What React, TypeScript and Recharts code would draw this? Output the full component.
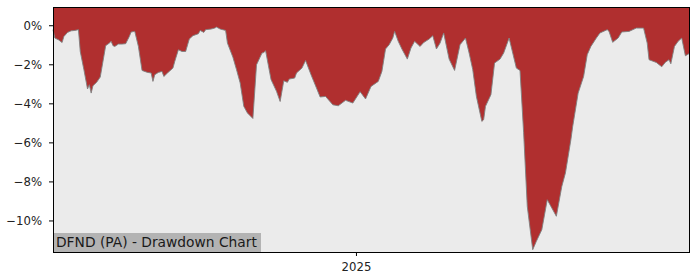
import React from "react";
import { AreaChart, Area, XAxis, YAxis, CartesianGrid } from "recharts";

const dates: string[] = [
  "2024-07-18","2024-07-19","2024-07-21","2024-07-23","2024-07-24","2024-07-26","2024-07-28","2024-07-30",
  "2024-08-01","2024-08-02","2024-08-04","2024-08-06","2024-08-07","2024-08-08","2024-08-09","2024-08-11",
  "2024-08-13","2024-08-16","2024-08-18","2024-08-19","2024-08-20","2024-08-21","2024-08-23","2024-08-25",
  "2024-08-27","2024-08-29","2024-08-30","2024-09-01","2024-09-03","2024-09-05","2024-09-08","2024-09-10",
  "2024-09-11","2024-09-12","2024-09-14","2024-09-16","2024-09-17","2024-09-19","2024-09-22","2024-09-23",
  "2024-09-25","2024-09-27","2024-09-29","2024-10-01","2024-10-03","2024-10-06","2024-10-07","2024-10-09",
  "2024-10-10","2024-10-13","2024-10-15","2024-10-16","2024-10-18","2024-10-21","2024-10-22","2024-10-25",
  "2024-10-27","2024-10-29","2024-10-31","2024-11-02","2024-11-05","2024-11-07","2024-11-10","2024-11-11",
  "2024-11-12","2024-11-15","2024-11-18","2024-11-20","2024-11-22","2024-11-24","2024-11-25","2024-11-28",
  "2024-11-29","2024-12-02","2024-12-04","2024-12-07","2024-12-10","2024-12-12","2024-12-15","2024-12-19",
  "2024-12-22","2024-12-26","2024-12-30","2025-01-03","2025-01-06","2025-01-09","2025-01-13","2025-01-15",
  "2025-01-17","2025-01-19","2025-01-21","2025-01-22","2025-01-24","2025-01-26","2025-01-29","2025-01-31",
  "2025-02-02","2025-02-05","2025-02-07","2025-02-10","2025-02-12","2025-02-14","2025-02-16","2025-02-18",
  "2025-02-21","2025-02-24","2025-02-27","2025-03-02","2025-03-04","2025-03-06","2025-03-08","2025-03-11",
  "2025-03-12","2025-03-13","2025-03-16","2025-03-18","2025-03-21","2025-03-23","2025-03-26","2025-03-28",
  "2025-03-30","2025-04-01","2025-04-03","2025-04-05","2025-04-08","2025-04-10","2025-04-13","2025-04-16",
  "2025-04-21","2025-04-24","2025-04-26","2025-04-29","2025-04-30","2025-05-03","2025-05-06","2025-05-08",
  "2025-05-10","2025-05-13","2025-05-15","2025-05-19","2025-05-20","2025-05-22","2025-05-25","2025-05-27",
  "2025-05-31","2025-06-04","2025-06-08","2025-06-10","2025-06-11","2025-06-15","2025-06-18","2025-06-20",
  "2025-06-22","2025-06-23","2025-06-25","2025-06-27","2025-06-29","2025-07-01","2025-07-03",
];

const drawdown: number[] = [
  -0.20,-0.63,-0.72,-0.86,-0.55,-0.34,-0.26,-0.24,
  -0.20,-1.32,-2.25,-3.24,-3.02,-3.45,-3.07,-2.90,
  -2.63,-1.02,-0.89,-0.80,-1.02,-1.06,-0.94,-0.94,
  -0.92,-0.55,-0.32,-0.29,-1.06,-2.29,-2.39,-2.42,
  -2.85,-2.51,-2.39,-2.34,-2.60,-2.42,-2.17,-1.83,
  -1.23,-1.32,-1.32,-0.68,-0.51,-0.41,-0.24,-0.34,
  -0.20,-0.17,-0.12,-0.07,-0.17,-0.24,-0.89,-1.61,
  -2.25,-2.93,-4.13,-4.47,-4.75,-2.00,-1.40,-1.37,
  -1.28,-2.76,-3.36,-3.88,-2.82,-2.90,-2.73,-2.68,
  -2.42,-2.17,-1.78,-2.51,-3.19,-3.65,-3.62,-4.05,
  -4.10,-3.82,-3.96,-3.38,-3.75,-3.11,-2.85,-2.34,
  -1.19,-0.97,-0.63,-0.29,-0.80,-1.19,-1.71,-1.14,
  -0.80,-1.06,-0.86,-0.68,-0.51,-1.19,-0.89,-0.37,
  -1.71,-2.29,-0.97,-0.63,-1.40,-2.25,-3.62,-4.90,
  -4.81,-4.13,-3.53,-1.91,-1.71,-1.40,-0.63,-1.40,
  -2.17,-2.29,-5.48,-9.25,-11.47,-11.04,-10.45,-8.91,
  -9.76,-8.23,-7.54,-5.84,-5.16,-3.45,-2.60,-1.48,
  -1.06,-0.63,-0.37,-0.20,-0.29,-0.85,-0.63,-0.32,
  -0.29,-0.12,-0.12,-0.89,-1.74,-1.88,-2.10,-1.87,
  -1.74,-1.95,-1.06,-0.80,-0.63,-1.54,-1.43,
];

const yTicks: number[] = [0, -2, -4, -6, -8, -10];
const xTickDates: string[] = ["2025-01-01"];
const yDomain: [number, number] = [-11.59, 0.96];
const title = "DFND (PA) - Drawdown Chart";

const data = dates.map((d, i) => ({ t: Date.parse(d), dd: drawdown[i] }));
const xTicks = xTickDates.map((d) => Date.parse(d));

const fmtPct = (v: number) => (v < 0 ? "\u2212" + Math.abs(v) : String(v)) + "%";
const fmtYear = (v: number) => String(new Date(v).getUTCFullYear());

const tickStyle = { fontFamily: "DejaVu Sans", fontSize: 11.7, fill: "#222" };

export default function App() {
  return (
    <div style={{ position: "absolute", left: 0, top: 0, width: 700, height: 280, background: "#fff" }}>
      <AreaChart
        width={700}
        height={280}
        data={data}
        margin={{ top: 7, right: 11, bottom: 0, left: 0 }}
      >
        <CartesianGrid horizontal={false} vertical={false} fill="#ebebeb" />
        <XAxis
          dataKey="t"
          type="number"
          domain={["dataMin", "dataMax"]}
          ticks={xTicks}
          tickFormatter={fmtYear}
          height={28}
          tickSize={4}
          tickMargin={7}
          tick={tickStyle}
          axisLine={false}
          tickLine={{ stroke: "#000" }}
        />
        <YAxis
          type="number"
          domain={yDomain}
          allowDataOverflow
          ticks={yTicks}
          tickFormatter={fmtPct}
          width={53}
          tickSize={4}
          tickMargin={7}
          tick={tickStyle}
          axisLine={false}
          tickLine={{ stroke: "#000" }}
        />
        <Area
          type="linear"
          dataKey="dd"
          baseValue={yDomain[1]}
          fill="#b02f2f"
          fillOpacity={1}
          stroke="#808080"
          strokeWidth={0.9}
          isAnimationActive={false}
          dot={false}
          activeDot={false}
        />
      </AreaChart>
      <div
        style={{
          position: "absolute",
          left: 53,
          top: 233,
          width: 208,
          height: 19,
          background: "#b3b3b3",
          fontFamily: "DejaVu Sans",
          fontSize: 13.8,
          lineHeight: "19px",
          color: "#1a1a1a",
          paddingLeft: 3,
          boxSizing: "border-box",
          whiteSpace: "nowrap",
        }}
      >
        {title}
      </div>
      <div
        style={{
          position: "absolute",
          left: 53,
          top: 7,
          width: 637,
          height: 246,
          border: "1px solid #000",
          boxSizing: "border-box",
          pointerEvents: "none",
        }}
      />
    </div>
  );
}
